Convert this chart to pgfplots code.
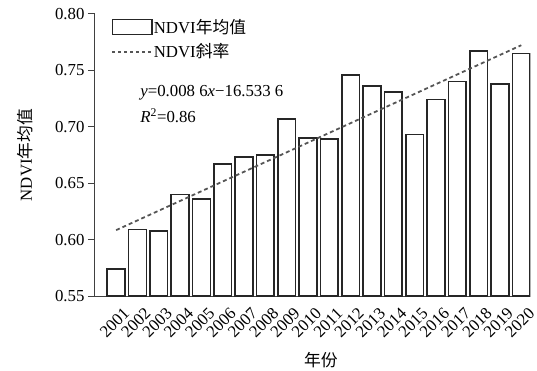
\documentclass[border=0pt]{standalone}
\usepackage{pgfplots}
\pgfplotsset{compat=1.18}
\usepackage{fontspec}
\setmainfont{Liberation Serif}
\newfontfamily\cjk{Noto Sans CJK SC}
\definecolor{barcol}{HTML}{262626}
\definecolor{linecol}{HTML}{555555}
\definecolor{axcol}{HTML}{404040}
\begin{document}
\begin{tikzpicture}[font=\fontsize{17}{20}\selectfont]
\begin{axis}[
  scale only axis, width=441pt, height=286pt,
  xmin=2000, xmax=2020.42, ymin=0.55, ymax=0.80,
  axis x line=bottom, axis y line=left,
  axis line style={-, line width=1.3pt, color=axcol},
  /pgf/number format/assume math mode=true,
  ytick={0.55,0.60,0.65,0.70,0.75,0.80},
  yticklabel style={/pgf/number format/.cd, fixed, fixed zerofill, precision=2},
  ytick style={line width=1.3pt, color=axcol},
  major tick length=7pt, tick align=outside,
  xtick={2001,2002,2003,2004,2005,2006,2007,2008,2009,2010,2011,2012,2013,2014,2015,2016,2017,2018,2019,2020},
  xtick style={draw=none},
  xticklabel style={/pgf/number format/1000 sep={}, rotate=45, anchor=north east, inner sep=1pt, xshift=3pt, yshift=-6pt},
  xlabel={\cjk 年份},
  xlabel style={at={(axis description cs:0.519,-0.225)}, anchor=center},
  ylabel={NDVI{\cjk 年均值}},
  ylabel style={at={(axis description cs:-0.159,0.5)}, anchor=center},
  legend style={at={(axis description cs:0.038,0.985)}, anchor=north west, draw=none, fill=none, inner sep=0pt, row sep=7pt, nodes={inner sep=1pt, anchor=west}},
  legend cell align=left,
]
\addplot[ybar, bar width=18pt, draw=barcol, fill=white, line width=1.6pt,
  legend image code/.code={\draw[draw=barcol, fill=white, line width=1.6pt] (0pt,-7.5pt) rectangle (40pt,7.5pt);}]
coordinates {
(2001,0.574) (2002,0.609) (2003,0.608) (2004,0.640) (2005,0.636)
(2006,0.667) (2007,0.673) (2008,0.675) (2009,0.707) (2010,0.690)
(2011,0.689) (2012,0.746) (2013,0.736) (2014,0.731) (2015,0.693)
(2016,0.724) (2017,0.740) (2018,0.767) (2019,0.738) (2020,0.765)
};
\addlegendentry{NDVI{\cjk 年均值}}
\addplot[linecol, line width=1.8pt, dash pattern=on 4pt off 3pt,
  legend image code/.code={\draw[linecol, line width=1.8pt, dash pattern=on 3pt off 3pt] (0pt,0pt) -- (40pt,0pt);}]
coordinates {(2001,0.6085) (2020,0.7722)};
\addlegendentry{NDVI{\cjk 斜率}}
\node[anchor=west, inner sep=0pt] at (axis cs:2002.13,0.730) {\textit{y}=0.008 6\textit{x}−16.533 6};
\node[anchor=west, inner sep=0pt] at (axis cs:2002.13,0.710) {\textit{R}\textsuperscript{2}=0.86};
\end{axis}
\useasboundingbox (-96pt,-71pt) rectangle (441pt,300pt);
\end{tikzpicture}
\end{document}
